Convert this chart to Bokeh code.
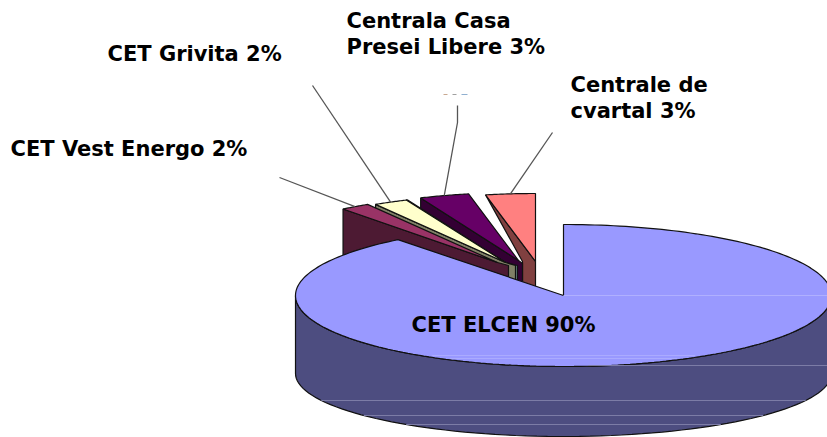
import numpy as np
from bokeh.plotting import figure
from bokeh.models import ColumnDataSource
from bokeh.core.properties import value
from bokeh.embed import file_html
from bokeh.resources import INLINE

# ---- data (percent shares, small ones clockwise-back order)
slice_names = ["Centrale de cvartal", "Centrala Casa Presei Libere", "(unlabelled)", "CET Grivita", "CET Vest Energo", "CET ELCEN"]
slice_shares = [3.2, 3.2, 0.1, 2.2, 1.9, 89.4]
top_colors = ["#FF8080", "#660066", "#CCFFFF", "#FFFFCC", "#993366", "#9999FF"]
side_colors = ["#804040", "#330033", "#668080", "#808066", "#4D1A33", "#4D4D80"]

label_texts = ["Centrala Casa", "Presei Libere 3%", "CET Grivita 2%", "Centrale de", "cvartal 3%", "CET Vest Energo 2%", "CET ELCEN 90%"]
label_x = [346, 346, 107, 570, 570, 10, 411]
label_y = [20, 46, 53, 84, 110, 148, 324]

# ---- layout of the drawing (reference-pixel space)
CX, CY, RX, RY, DEPTH, RY_BOTTOM = 563, 295, 268, 71, 78, 63
RX_OUT, RY_OUT = 250, 68
explode_dx = [-28, -45, -58, -58, -66]
explode_dy = [-34, -35, -33, -33, -33]
side_extend = [0, 4, 12, 10, 11]
INSET_FIRST = 13
leader_from = [[(552, 132)], [(457, 105), (457, 122)], None, [(312, 85)], [(279, 177)]]
sheen_top = [355, 358]
sheen_side = [365, 400, 415, 424]

def arc(cx, cy, rx, ry, a0, a1, n=80):
    """Clockwise angle in degrees from 12 o'clock."""
    t = np.radians(np.linspace(a0, a1, n))
    return list(cx + rx * np.sin(t)), list(cy - ry * np.cos(t))

W, H = 827, 437
p = figure(width=W, height=H, x_range=(0, 827), y_range=(437, 0), output_backend="svg",
           toolbar_location=None, min_border=0, outline_line_color=None, background_fill_color="white")
p.axis.visible = False
p.grid.visible = False

xs, ys, fills, lines = [], [], [], []
def add(x, y, fill, line="#111111"):
    xs.append(list(x)); ys.append(list(y)); fills.append(fill); lines.append(line)

# exploded small slices run counter-clockwise from 12 o'clock
cum = 0.0
mid_pts = []
for i in range(5):
    a0 = -cum * 3.6
    a1 = -(cum + slice_shares[i]) * 3.6
    cum += slice_shares[i]
    ax, ay = CX + explode_dx[i], CY + explode_dy[i]
    rx_, ry_ = arc(ax, ay, RX_OUT, RY_OUT, a0, a1, 24)
    mx, my = arc(ax, ay, RX_OUT, RY_OUT, (a0 + a1) / 2, (a0 + a1) / 2, 1)
    mid_pts.append((mx[0], my[0]))
    e = side_extend[i]
    if i == 0:
        sx = [rx_[-1], ax, ax, ax - INSET_FIRST, ax - INSET_FIRST]
        sy = [ry_[-1], ay, ay + DEPTH, ay + DEPTH, ay]
    else:
        sx = [rx_[-1], ax, ax + e, ax + e, rx_[-1]]
        sy = [ry_[-1], ay, ay + 3, ay + DEPTH, ry_[-1] + DEPTH]
    add(sx, sy, side_colors[i])
    add([ax] + rx_, [ay] + ry_, top_colors[i])

# main slice
main_end = 360 - cum * 3.6
tx, ty = arc(CX, CY, RX, RY, 90, 270)
bx, by = arc(CX, CY + DEPTH, RX, RY_BOTTOM, 270, 90)
add(tx + bx, ty + by, side_colors[5])
mx, my = arc(CX, CY, RX, RY, 0, main_end, 240)
add([CX] + mx, [CY] + my, top_colors[5])

p.patches(xs, ys, fill_color=fills, line_color=lines, line_width=1.2)

# sheen lines in the big slice
def half_width(dy, ry):
    return RX * np.sqrt(max(0.0, 1 - (dy / ry) ** 2))
p.line([CX, CX + RX], [CY, CY], line_color="#B0B0FF", line_width=1)
for y in sheen_top:
    w = half_width(y - CY, RY) * 0.92
    p.line([CX - w, CX + w], [y, y], line_color="#ABABFF", line_width=1)
for y in sheen_side:
    if y <= CY + RY:
        w0 = half_width(y - CY, RY)
        p.line([CX + w0 * 0.55, CX + RX], [y, y], line_color="#7C7CA6", line_width=1)
    else:
        w = half_width(y - CY - DEPTH, RY_BOTTOM)
        p.line([CX - w, CX + w], [y, y], line_color="#7C7CA6", line_width=1)

# leader lines
for start, end in zip(leader_from, mid_pts):
    if start is None:
        continue
    pts = start + [end]
    p.line([q[0] for q in pts], [q[1] for q in pts], line_color="#555555", line_width=1.3)

# the clipped remnant of a hidden label
p.multi_line([[443, 447], [452, 456], [461, 467]], [[94, 94], [94, 94], [94, 94]],
             line_color=["#C8A890", "#A0A0A0", "#90B0D0"], line_width=1)

src = ColumnDataSource(dict(x=label_x, y=label_y, t=label_texts))
p.text("x", "y", text="t", source=src, text_font=value("DejaVu Sans"), text_font_style="bold",
       text_font_size="21px", text_color="black", text_baseline="middle", text_align="left")

open("out.html", "w").write(file_html(p, INLINE))
